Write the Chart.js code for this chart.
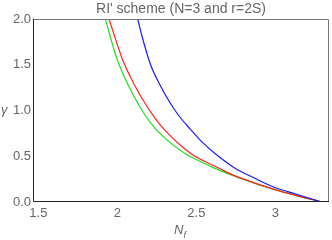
<!DOCTYPE html>
<html lang="en">
<head>
  <meta charset="UTF-8">
  <title>RI' scheme</title>
  <script src="https://cdn.jsdelivr.net/npm/chart.js"></script>
  <style>
    body { margin: 0; background: #fff; }
    #wrap { position: relative; width: 332px; height: 240px; }
    .lbl { position: absolute; font-family: 'Liberation Sans', Arial, sans-serif; color: #666; white-space: nowrap; }
    #titulo { left: 33px; width: 296px; top: 0px; font-size: 14px; text-align: center; }
    #ylab { left: 1px; top: 102px; font-size: 13px; font-style: italic; }
    #xlab { left: 174px; top: 222px; font-size: 13px; font-style: italic; }
    #xlab sub { font-size: 9px; }
  </style>
</head>
<body>
  <div id="wrap">
    <canvas id="grafica" width="332" height="240"></canvas>
    <div class="lbl" id="titulo">RI' scheme (N=3 and r=2S)</div>
    <div class="lbl" id="ylab">γ</div>
    <div class="lbl" id="xlab">N<sub>f</sub></div>
  </div>

  <script>
    // valores (N_f, gamma)
    const greenN = [1.924, 2.0, 2.112, 2.175, 2.239, 2.323, 2.428, 2.492, 2.618, 2.745, 2.871, 2.998, 3.124, 3.294];
    const greenG = [2.0, 1.552, 1.133, 0.951, 0.805, 0.665, 0.530, 0.470, 0.368, 0.278, 0.204, 0.135, 0.075, 0.0];
    const redN = [1.947, 2.034, 2.112, 2.175, 2.239, 2.323, 2.428, 2.492, 2.618, 2.682, 2.745, 2.871, 2.998, 3.124, 3.294];
    const redG = [2.0, 1.552, 1.268, 1.079, 0.915, 0.745, 0.580, 0.500, 0.390, 0.335, 0.285, 0.206, 0.135, 0.075, 0.0];
    const blueN = [2.129, 2.154, 2.211, 2.270, 2.323, 2.386, 2.460, 2.534, 2.618, 2.745, 2.871, 2.998, 3.124, 3.294];
    const blueG = [2.0, 1.825, 1.497, 1.279, 1.115, 0.951, 0.800, 0.660, 0.530, 0.370, 0.259, 0.158, 0.090, 0.0];
    const xTicks = [1.5, 2, 2.5, 3];
    const yTicks = [0, 0.5, 1, 1.5, 2];

    const pts = (xs, ys) => xs.map((x, i) => ({ x: x, y: ys[i] }));
    const gris = '#666';
    const fuente = { family: "'Liberation Sans', Arial, sans-serif", size: 13 };

    // marco completo alrededor del área del gráfico
    const marco = {
      id: 'marco',
      afterDraw(chart) {
        const a = chart.chartArea, ctx = chart.ctx;
        ctx.save();
        ctx.lineWidth = 1;
        ctx.strokeStyle = '#777';
        ctx.beginPath();
        ctx.moveTo(a.left, a.top + 0.5);
        ctx.lineTo(a.right - 0.5, a.top + 0.5);
        ctx.lineTo(a.right - 0.5, a.bottom);
        ctx.stroke();
        ctx.strokeStyle = '#222';
        ctx.beginPath();
        ctx.moveTo(a.left + 0.5, a.top);
        ctx.lineTo(a.left + 0.5, a.bottom - 0.5);
        ctx.lineTo(a.right, a.bottom - 0.5);
        ctx.stroke();
        ctx.restore();
      }
    };

    const linea = (datos, color) => ({
      data: datos,
      borderColor: color,
      borderWidth: 1.2,
      pointRadius: 0,
      fill: false,
      cubicInterpolationMode: 'monotone'
    });

    new Chart(document.getElementById('grafica').getContext('2d'), {
      type: 'line',
      data: {
        datasets: [
          linea(pts(blueN, blueG), '#1a1aff'),
          linea(pts(redN, redG), '#ff2020'),
          linea(pts(greenN, greenG), '#20e020')
        ]
      },
      options: {
        responsive: false,
        animation: false,
        layout: { padding: { left: 0, right: 3, top: 19, bottom: 0 } },
        plugins: {
          legend: { display: false },
          tooltip: { enabled: false },
          title: { display: false }
        },
        scales: {
          x: {
            type: 'linear',
            min: 1.466,
            max: 3.340,
            afterBuildTicks: s => { s.ticks = xTicks.map(v => ({ value: v })); },
            afterFit: s => { s.height = 38; },
            grid: { display: false, drawTicks: false, tickLength: 0 },
            border: { display: false },
            ticks: { color: gris, font: fuente, padding: 4, maxRotation: 0, callback: v => String(v) }
          },
          y: {
            min: 0,
            max: 2,
            afterBuildTicks: s => { s.ticks = yTicks.map(v => ({ value: v })); },
            afterFit: s => { s.width = 33; },
            grid: { display: false, drawTicks: false, tickLength: 0 },
            border: { display: false },
            ticks: { color: gris, font: fuente, padding: 2, callback: v => v.toFixed(1) }
          }
        }
      },
      plugins: [marco]
    });
  </script>
</body>
</html>
